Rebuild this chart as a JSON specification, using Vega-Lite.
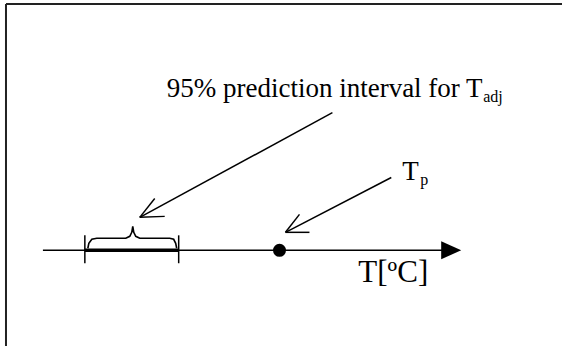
{
  "$schema": "https://vega.github.io/schema/vega-lite/v6.json",
  "width": 563,
  "height": 347,
  "autosize": {"type": "fit", "contains": "padding"},
  "padding": 0,
  "background": "white",
  "view": {"stroke": null},
  "config": {"font": "Liberation Serif"},
  "datasets": {
    "frame": [
      {"x": 6, "y": 4, "x2": 6, "y2": 347},
      {"x": 6, "y": 4, "x2": 563, "y2": 4}
    ],
    "axisline": [{"x": 43, "y": 251, "x2": 444, "y2": 251}],
    "interval": [{"x": 85, "y": 251, "x2": 179, "y2": 251}],
    "ticks": [
      {"x": 85, "y": 236, "x2": 85, "y2": 264},
      {"x": 179, "y": 236, "x2": 179, "y2": 264}
    ],
    "arrows": [
      {"x": 333, "y": 113, "x2": 140, "y2": 218},
      {"x": 140, "y": 218, "x2": 155, "y2": 199},
      {"x": 140, "y": 218, "x2": 165, "y2": 217},
      {"x": 392, "y": 178, "x2": 286, "y2": 233},
      {"x": 286, "y": 233, "x2": 300, "y2": 215},
      {"x": 286, "y": 233, "x2": 310, "y2": 233}
    ],
    "brace": [
      {"o": 1, "x": 88, "y": 249},
      {"o": 2, "x": 89, "y": 244},
      {"o": 3, "x": 92, "y": 240},
      {"o": 4, "x": 97, "y": 239},
      {"o": 5, "x": 126, "y": 239},
      {"o": 6, "x": 130, "y": 237},
      {"o": 7, "x": 132, "y": 233},
      {"o": 8, "x": 133, "y": 227},
      {"o": 9, "x": 134, "y": 233},
      {"o": 10, "x": 136, "y": 237},
      {"o": 11, "x": 140, "y": 239},
      {"o": 12, "x": 170, "y": 239},
      {"o": 13, "x": 174, "y": 240},
      {"o": 14, "x": 176, "y": 244},
      {"o": 15, "x": 177, "y": 249}
    ],
    "head": [{"x": 452, "y": 251}],
    "dot": [{"x": 280, "y": 251}],
    "labels": [
      {"role": "main", "x": 167, "y": 97, "text": "95% prediction interval for T"},
      {"role": "sub", "x": 484, "y": 102, "text": "adj"},
      {"role": "main", "x": 403, "y": 181, "text": "T"},
      {"role": "sub", "x": 421, "y": 186, "text": "p"},
      {"role": "unit", "x": 359, "y": 283, "text": "T[ºC]"}
    ]
  },
  "encoding": {
    "x": {"field": "x", "type": "quantitative", "scale": {"domain": [0, 563], "nice": false, "zero": false}, "axis": null},
    "y": {"field": "y", "type": "quantitative", "scale": {"domain": [0, 347], "nice": false, "zero": false, "reverse": true}, "axis": null}
  },
  "layer": [
    {
      "data": {"name": "frame"},
      "mark": {"type": "rule", "stroke": "#222", "strokeWidth": 2},
      "encoding": {"x2": {"field": "x2"}, "y2": {"field": "y2"}}
    },
    {
      "data": {"name": "axisline"},
      "mark": {"type": "rule", "stroke": "black", "strokeWidth": 1.6},
      "encoding": {"x2": {"field": "x2"}, "y2": {"field": "y2"}}
    },
    {
      "data": {"name": "interval"},
      "mark": {"type": "rule", "stroke": "black", "strokeWidth": 3.5},
      "encoding": {"x2": {"field": "x2"}, "y2": {"field": "y2"}}
    },
    {
      "data": {"name": "ticks"},
      "mark": {"type": "rule", "stroke": "black", "strokeWidth": 1.5},
      "encoding": {"x2": {"field": "x2"}, "y2": {"field": "y2"}}
    },
    {
      "data": {"name": "arrows"},
      "mark": {"type": "rule", "stroke": "black", "strokeWidth": 1.5},
      "encoding": {"x2": {"field": "x2"}, "y2": {"field": "y2"}}
    },
    {
      "data": {"name": "brace"},
      "mark": {"type": "line", "stroke": "black", "strokeWidth": 1.6, "interpolate": "linear"},
      "encoding": {"order": {"field": "o", "type": "quantitative"}}
    },
    {
      "data": {"name": "head"},
      "mark": {"type": "point", "shape": "M -1 -0.9 L 1 0 L -1 0.9 Z", "filled": true, "color": "black", "opacity": 1, "size": 400}
    },
    {
      "data": {"name": "dot"},
      "mark": {"type": "point", "shape": "circle", "filled": true, "color": "black", "opacity": 1, "size": 170}
    },
    {
      "data": {"name": "labels"},
      "transform": [{"filter": "datum.role === 'main'"}],
      "mark": {"type": "text", "align": "left", "baseline": "alphabetic", "font": "Liberation Serif", "fontSize": 27, "color": "black"},
      "encoding": {"text": {"field": "text"}}
    },
    {
      "data": {"name": "labels"},
      "transform": [{"filter": "datum.role === 'sub'"}],
      "mark": {"type": "text", "align": "left", "baseline": "alphabetic", "font": "Liberation Serif", "fontSize": 16, "color": "black"},
      "encoding": {"text": {"field": "text"}}
    },
    {
      "data": {"name": "labels"},
      "transform": [{"filter": "datum.role === 'unit'"}],
      "mark": {"type": "text", "align": "left", "baseline": "alphabetic", "font": "Liberation Serif", "fontSize": 31, "color": "black"},
      "encoding": {"text": {"field": "text"}}
    }
  ]
}
